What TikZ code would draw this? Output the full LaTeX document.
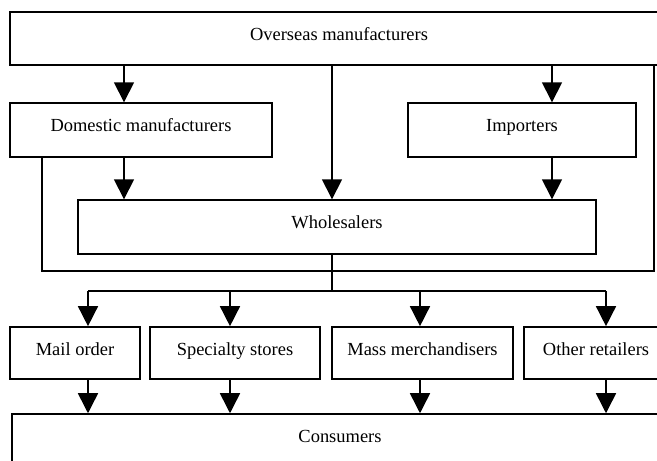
\documentclass[tikz,border=0pt]{standalone}
\usepackage{fontspec}
\setmainfont{Liberation Serif}
\usepackage{tikz}
\usetikzlibrary{arrows.meta, positioning}
\tikzset{
  box/.style={rectangle, draw, fill=white, inner sep=0pt,
    text height=5.6pt, text depth=3pt,
    font=\fontsize{12}{14}\selectfont, line width=1pt},
  arrow/.style={-{Triangle[width=13pt,length=13pt]}, line width=1pt},
  line/.style={line width=1pt}
}

\begin{document}
\begin{tikzpicture}[x=0.02285cm, y=-0.02285cm]
  \useasboundingbox (0,0) rectangle (657,461);
  \node[box, minimum width=15.04cm, minimum height=1.21cm] (overseas) at (339,38.5) {Overseas manufacturers};
  \node[box, minimum width=5.99cm, minimum height=1.23cm] (domestic) at (141,130) {Domestic manufacturers};
  \node[box, minimum width=5.21cm, minimum height=1.23cm] (importers) at (522,130) {Importers};
  \node[box, minimum width=11.84cm, minimum height=1.23cm] (wholesalers) at (337,227) {Wholesalers};
  \node[box, minimum width=2.97cm, minimum height=1.19cm] (mail) at (75,353) {Mail order};
  \node[box, minimum width=3.88cm, minimum height=1.19cm] (specialty) at (235,353) {Specialty stores};
  \node[box, minimum width=4.14cm, minimum height=1.19cm] (mass) at (422.5,353) {Mass merchandisers};
  \node[box, minimum width=3.29cm, minimum height=1.19cm] (other) at (596,353) {Other retailers};
  \node[box, minimum width=14.99cm, minimum height=1.21cm] (consumers) at (340,440.5) {Consumers};

  \coordinate (xdom) at (124,0);
  \coordinate (xmid) at (332,0);
  \coordinate (ximp) at (552,0);
  \coordinate (loopl) at (42,271);
  \coordinate (loopr) at (654,271);
  \coordinate (bus) at (332,291);

  % Upper level
  \draw[arrow] (overseas.south -| xdom) -- (domestic.north -| xdom);
  \draw[arrow] (overseas.south -| ximp) -- (importers.north -| ximp);
  \draw[arrow] (overseas.south -| xmid) -- (wholesalers.north -| xmid);
  \draw[arrow] (domestic.south -| xdom) -- (wholesalers.north -| xdom);
  \draw[arrow] (importers.south -| ximp) -- (wholesalers.north -| ximp);
  % Direct loop to retail level
  \draw[line] (domestic.south -| loopl) -- (loopl) -- (loopr) -- (overseas.south -| loopr);
  % Distribution bus
  \draw[line] (wholesalers.south -| bus) -- (bus);
  \foreach \n/\x in {mail/88, specialty/230, mass/420, other/606} {
    \coordinate (t\n) at (\x,291);
    \draw[arrow] (t\n) -- (\n.north -| t\n);
    \draw[arrow] (\n.south -| t\n) -- (consumers.north -| t\n);
  }
  \draw[line] (tmail) -- (tother);
\end{tikzpicture}
\end{document}
